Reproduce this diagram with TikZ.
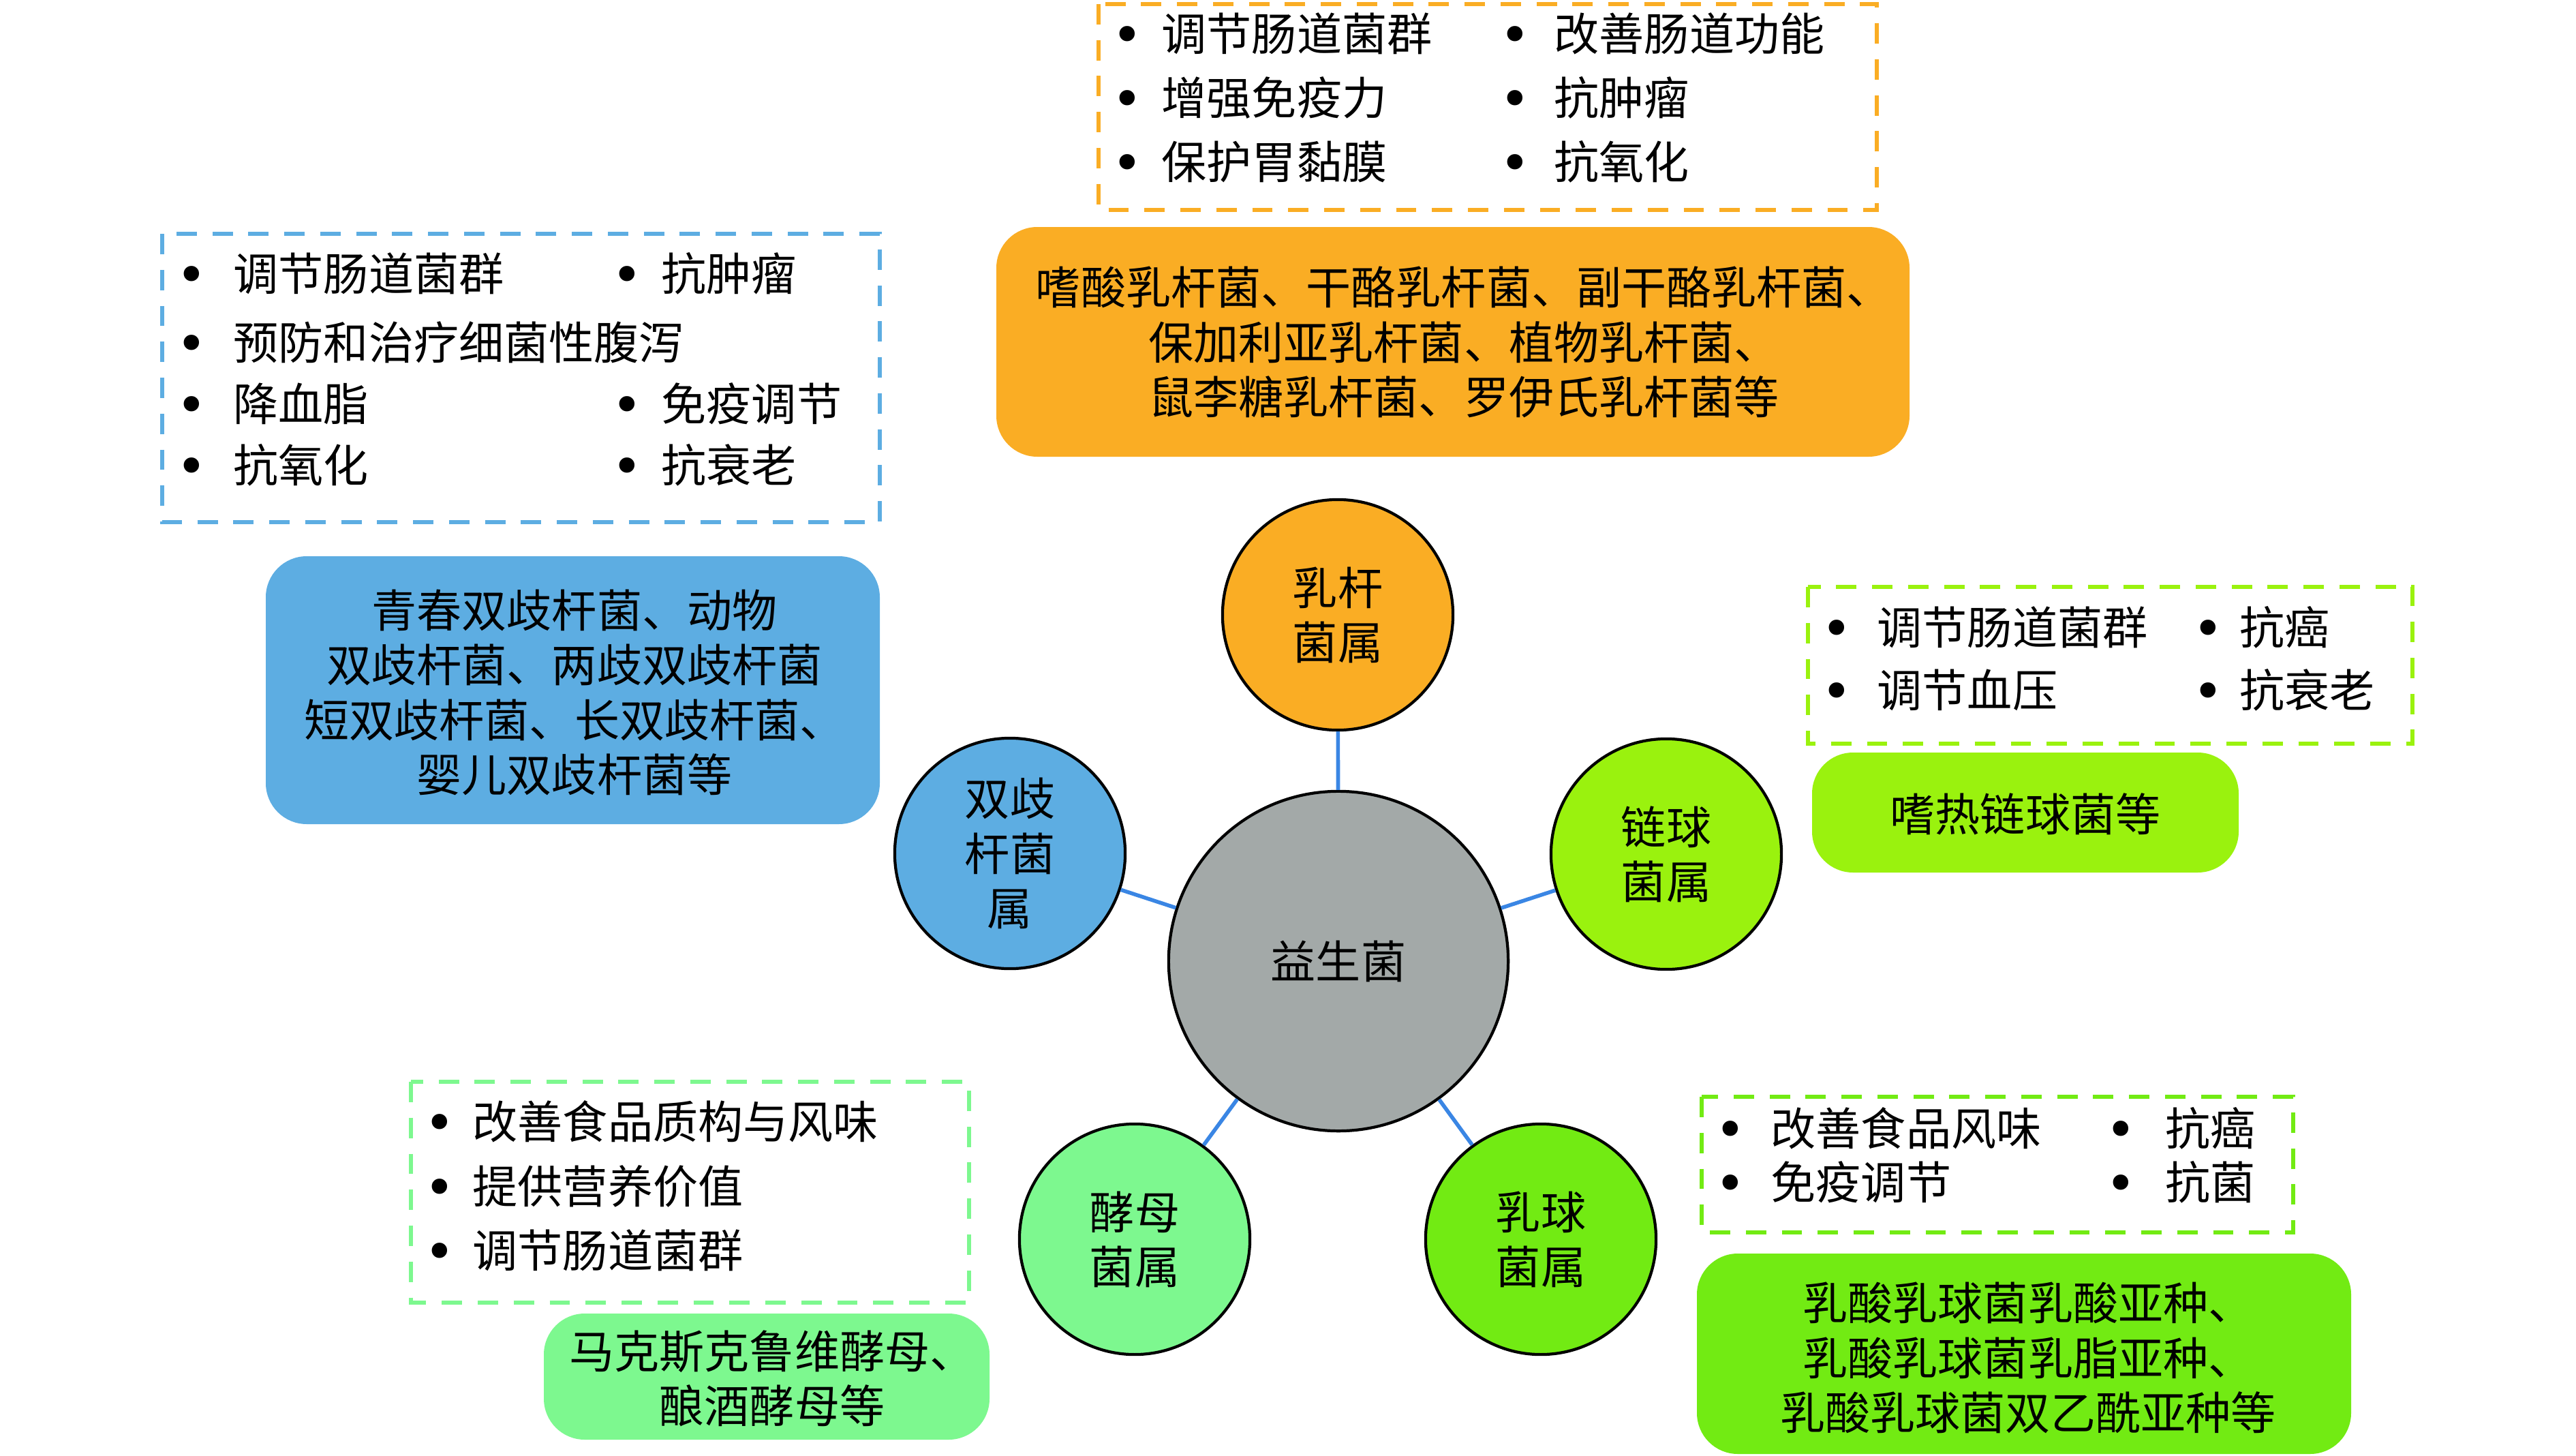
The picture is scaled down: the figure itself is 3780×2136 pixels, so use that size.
\documentclass[tikz,border=0pt]{standalone}
\usepackage{fontspec}
\newfontfamily\cjk{Noto Sans CJK SC}
\newfontfamily\dejavu{DejaVu Sans}
\definecolor{cOrange}{HTML}{FAAD24}
\definecolor{cBlue}{HTML}{5DADE2}
\definecolor{cGray}{HTML}{A3A9A8}
\definecolor{cLime}{HTML}{9AF20E}
\definecolor{cGreen}{HTML}{72EB13}
\definecolor{cLight}{HTML}{7DF88F}
\definecolor{cLine}{HTML}{3A86E4}
\begin{document}
\begin{tikzpicture}[x=0.01cm,y=-0.01cm,
  txt/.style={font=\cjk\fontsize{18.8pt}{22.8pt}\selectfont, inner sep=0pt, text=black},
  itemtxt/.style={txt, anchor=west},
  bul/.style={font=\dejavu\fontsize{22pt}{24pt}\selectfont, inner sep=0pt, text=black, anchor=north, yshift=0.11cm},
  dashbox/.style={draw=#1, line width=1.7pt, dash pattern=on 8.5pt off 6.5pt},
  fillbox/.style={fill=#1, rounded corners=0.6cm},
  circ/.style={circle, draw=black, line width=1.2pt, fill=#1, minimum size=3.38cm, txt, align=center},
  conn/.style={draw=cLine, line width=1.6pt}
]
\useasboundingbox (0,0) rectangle (3780,2136);

% ---------- circles ----------
\node[circ=cGray, minimum size=4.98cm] (core) at (1964,1410) {益生菌};
\node[circ=cOrange] (lac) at (1963,902) {乳杆\\菌属};
\node[circ=cBlue] (bif) at (1482,1252) {双歧\\杆菌\\属};
\node[circ=cLime] (str) at (2445,1253) {链球\\菌属};
\node[circ=cLight] (yea) at (1665,1818) {酵母\\菌属};
\node[circ=cGreen] (lco) at (2261,1818) {乳球\\菌属};

\draw[conn] (core) -- (lac);
\draw[conn] (core) -- (bif);
\draw[conn] (core) -- (str);
\draw[conn] (core) -- (yea);
\draw[conn] (core) -- (lco);

% ---------- Lactobacillus (top) ----------
\draw[dashbox=cOrange] (1612,6) rectangle (2754,308);
\node[bul] (ob1) at (1654,49) {•};
\node[itemtxt] (ot1) at (1704,49) {调节肠道菌群};
\node[bul] (ob2) at (2223,49) {•};
\node[itemtxt] (ot2) at (2280,49) {改善肠道功能};
\node[bul] (ob3) at (1654,143) {•};
\node[itemtxt] (ot3) at (1704,143) {增强免疫力};
\node[bul] (ob4) at (2223,143) {•};
\node[itemtxt] (ot4) at (2280,143) {抗肿瘤};
\node[bul] (ob5) at (1654,237) {•};
\node[itemtxt] (ot5) at (1704,237) {保护胃黏膜};
\node[bul] (ob6) at (2223,237) {•};
\node[itemtxt] (ot6) at (2280,237) {抗氧化};

\fill[fillbox=cOrange] (1462,333) rectangle (2802,670);
\node[txt, align=center] (otx) at (2148,502) {嗜酸乳杆菌、干酪乳杆菌、副干酪乳杆菌、\\保加利亚乳杆菌、植物乳杆菌、\\鼠李糖乳杆菌、罗伊氏乳杆菌等};

% ---------- Bifidobacterium (left) ----------
\draw[dashbox=cBlue] (238,343) rectangle (1291,766);
\node[bul] (bb1) at (281,401) {•};
\node[itemtxt] (bt1) at (342,401) {调节肠道菌群};
\node[bul] (bb2) at (920,401) {•};
\node[itemtxt] (bt2) at (970,401) {抗肿瘤};
\node[bul] (bb3) at (281,502) {•};
\node[itemtxt] (bt3) at (342,502) {预防和治疗细菌性腹泻};
\node[bul] (bb4) at (281,592) {•};
\node[itemtxt] (bt4) at (342,592) {降血脂};
\node[bul] (bb5) at (920,592) {•};
\node[itemtxt] (bt5) at (970,592) {免疫调节};
\node[bul] (bb6) at (281,682) {•};
\node[itemtxt] (bt6) at (342,682) {抗氧化};
\node[bul] (bb7) at (920,682) {•};
\node[itemtxt] (bt7) at (970,682) {抗衰老};

\fill[fillbox=cBlue] (390,816) rectangle (1291,1209);
\node[txt, align=center] (btx) at (843,1016) {青春双歧杆菌、动物\\双歧杆菌、两歧双歧杆菌\\短双歧杆菌、长双歧杆菌、\\婴儿双歧杆菌等};

% ---------- Streptococcus (right) ----------
\draw[dashbox=cLime] (2653,861) rectangle (3540,1091);
\node[bul] (sb1) at (2695,920) {•};
\node[itemtxt] (st1) at (2754,920) {调节肠道菌群};
\node[bul] (sb2) at (3240,920) {•};
\node[itemtxt] (st2) at (3286,920) {抗癌};
\node[bul] (sb3) at (2695,1012) {•};
\node[itemtxt] (st3) at (2754,1012) {调节血压};
\node[bul] (sb4) at (3240,1012) {•};
\node[itemtxt] (st4) at (3286,1012) {抗衰老};

\fill[fillbox=cLime] (2659,1104) rectangle (3285,1280);
\node[txt] (stx) at (2972,1194) {嗜热链球菌等};

% ---------- Yeast (bottom left) ----------
\draw[dashbox=cLight] (603,1587) rectangle (1422,1911);
\node[bul] (yb1) at (645,1645) {•};
\node[itemtxt] (yt1) at (693,1645) {改善食品质构与风味};
\node[bul] (yb2) at (645,1740) {•};
\node[itemtxt] (yt2) at (693,1740) {提供营养价值};
\node[bul] (yb3) at (645,1834) {•};
\node[itemtxt] (yt3) at (693,1834) {调节肠道菌群};

\fill[fillbox=cLight] (798,1927) rectangle (1452,2112);
\node[txt, align=center] (ytx) at (1133,2022) {马克斯克鲁维酵母、\\酿酒酵母等};

% ---------- Lactococcus (bottom right) ----------
\draw[dashbox=cGreen] (2497,1609) rectangle (3365,1808);
\node[bul] (lb1) at (2539,1655) {•};
\node[itemtxt] (lt1) at (2598,1655) {改善食品风味};
\node[bul] (lb2) at (3112,1655) {•};
\node[itemtxt] (lt2) at (3177,1655) {抗癌};
\node[bul] (lb3) at (2539,1734) {•};
\node[itemtxt] (lt3) at (2598,1734) {免疫调节};
\node[bul] (lb4) at (3112,1734) {•};
\node[itemtxt] (lt4) at (3177,1734) {抗菌};

\fill[fillbox=cGreen] (2490,1839) rectangle (3450,2133);
\node[txt, align=center] (ltx) at (2976,1992) {乳酸乳球菌乳酸亚种、\\乳酸乳球菌乳脂亚种、\\乳酸乳球菌双乙酰亚种等};
\end{tikzpicture}
\end{document}
